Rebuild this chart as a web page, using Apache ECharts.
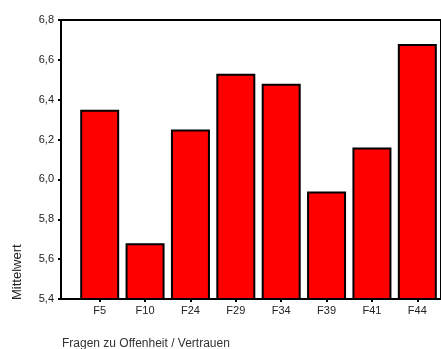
<!DOCTYPE html>
<html><head><meta charset="utf-8">
<script src="https://cdn.jsdelivr.net/npm/echarts@6/dist/echarts.min.js"></script>
<style>html,body{margin:0;padding:0;background:#fff}#c{width:441px;height:349px}</style>
</head><body><div id="c"></div>
<script>
const categories = ['F5','F10','F24','F29','F34','F39','F41','F44'];
const values = [6.35, 5.68, 6.25, 6.53, 6.48, 5.94, 6.16, 6.68];
const yTicks = [5.4, 5.6, 5.8, 6.0, 6.2, 6.4, 6.6, 6.8];
const yAxisTitle = 'Mittelwert';
const xAxisTitle = 'Fragen zu Offenheit / Vertrauen';

const chart = echarts.init(document.getElementById('c'), null, {renderer:'canvas'});
const font = '"Liberation Sans", Arial, sans-serif';
chart.setOption({
  animation:false,
  title:{text:xAxisTitle,left:62,top:338,padding:0,textStyle:{fontFamily:font,fontSize:12,fontWeight:'normal',color:'#333'}},
  graphic:[{type:'text',x:11,y:300,rotation:Math.PI/2,style:{text:yAxisTitle,font:'13px '+font,fill:'#222'}}],
  grid:[
    {left:61,top:20,bottom:50,width:420,show:true,borderColor:'#000',borderWidth:2,backgroundColor:'transparent',z:5},
    {left:77,top:20,bottom:50,width:363,containLabel:false}
  ],
  xAxis:[
    {gridIndex:0,type:'value',min:0,max:1,show:false},
    {gridIndex:1,type:'category',data:categories,
     axisLine:{show:false},
     axisTick:{show:true,alignWithLabel:true,length:3,lineStyle:{color:'#000',width:2}},
     axisLabel:{fontFamily:font,fontSize:11,color:'#222',margin:6}}
  ],
  yAxis:[
    {gridIndex:0,type:'value',min:5.4,max:6.8,interval:0.2,
     axisLine:{show:true,lineStyle:{color:'#000',width:2}},
     axisTick:{show:true,length:3,lineStyle:{color:'#000',width:2}},
     splitLine:{show:false},
     axisLabel:{fontFamily:font,fontSize:11,color:'#222',margin:7,
       formatter:v=>{const t=yTicks.find(x=>Math.abs(x-v)<1e-6);return t===undefined?'':t.toFixed(1).replace('.',',');}}},
    {gridIndex:1,type:'value',min:5.4,max:6.8,interval:0.2,show:false}
  ],
  series:[{type:'bar',xAxisIndex:1,yAxisIndex:1,data:values,barWidth:39,
    itemStyle:{color:'#ff0000',borderColor:'#000',borderWidth:2},z:3}]
});
</script></body></html>
